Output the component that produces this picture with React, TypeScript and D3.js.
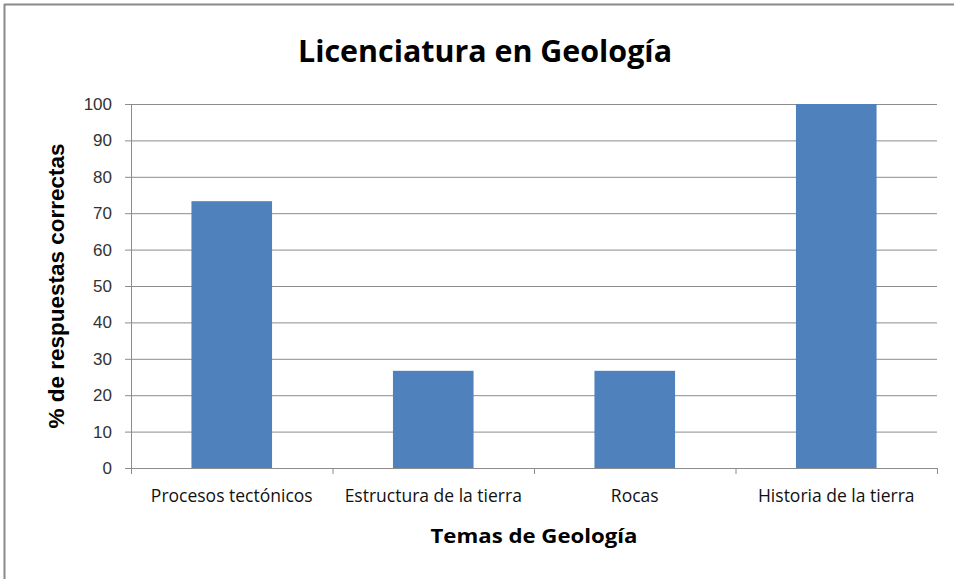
import React from "react";
import * as d3 from "d3";

const categories = ["Procesos tectónicos", "Estructura de la tierra", "Rocas", "Historia de la tierra"];
const values = [73.3, 26.7, 26.7, 100];
const yTicks = [0, 10, 20, 30, 40, 50, 60, 70, 80, 90, 100];

const W = 954;
const H = 579;
const M = { left: 131, right: 937, top: 104, bottom: 468 };

export default function App() {
  const x = d3.scaleBand<string>().domain(categories).range([M.left, M.right]).paddingInner(0.6).paddingOuter(0.3);
  const xb = d3.scaleBand<string>().domain(categories).range([M.left, M.right]);
  const y = d3.scaleLinear().domain([0, 100]).range([M.bottom, M.top]);
  const grid = "#8c8c8c";
  return (
    <svg width={W} height={H} style={{ position: "absolute", left: 0, top: 0, background: "#fff" }}>
      <rect x={0} y={0} width={W} height={H} fill="#fff" />
      <line x1={4.5} y1={4} x2={4.5} y2={H} stroke="#8a8a8a" strokeWidth={2} />
      <line x1={4} y1={4.5} x2={W} y2={4.5} stroke="#8a8a8a" strokeWidth={2} />
      <text x={485} y={62} textAnchor="middle" fontFamily="Open Sans, Liberation Sans, sans-serif" fontWeight="bold" fontSize={31} textLength={374} lengthAdjust="spacingAndGlyphs" fill="#000">Licenciatura en Geología</text>
      {yTicks.map((t) => (
        <g key={t}>
          {t > 0 && <line x1={M.left} x2={M.right} y1={y(t) + 0.5} y2={y(t) + 0.5} stroke={grid} strokeWidth={1} />}
          <line x1={M.left - 6} x2={M.left} y1={y(t) + 0.5} y2={y(t) + 0.5} stroke={grid} strokeWidth={1} />
          <text x={112} y={y(t) + 6} textAnchor="end" fontFamily="Liberation Sans, Arial, sans-serif" fontSize={17} fill="#333">{t}</text>
        </g>
      ))}
      {categories.map((c, i) => (
        <rect key={c} x={x(c)} y={y(values[i])} width={x.bandwidth()} height={M.bottom - y(values[i])} fill="#4F81BD" />
      ))}
      <line x1={M.left + 0.5} x2={M.left + 0.5} y1={M.top} y2={M.bottom} stroke={grid} strokeWidth={1} />
      <line x1={M.left} x2={M.right} y1={M.bottom + 0.5} y2={M.bottom + 0.5} stroke={grid} strokeWidth={1} />
      {categories.map((c) => (
        <line key={"t" + c} x1={(xb(c) as number) + xb.bandwidth() + 0.5} x2={(xb(c) as number) + xb.bandwidth() + 0.5} y1={M.bottom} y2={M.bottom + 6} stroke={grid} strokeWidth={1} />
      ))}
      <line x1={M.left + 0.5} x2={M.left + 0.5} y1={M.bottom} y2={M.bottom + 6} stroke={grid} strokeWidth={1} />
      {categories.map((c) => (
        <text key={"l" + c} x={(xb(c) as number) + xb.bandwidth() / 2} y={502} textAnchor="middle" fontFamily="Open Sans, Liberation Sans, sans-serif" fontSize={17.5} fill="#111">{c}</text>
      ))}
      <text x={534} y={543} textAnchor="middle" fontFamily="Open Sans, Liberation Sans, sans-serif" fontWeight="bold" fontSize={20} textLength={207} lengthAdjust="spacingAndGlyphs" fill="#000">Temas de Geología</text>
      <text transform={`translate(64, 286) rotate(-90)`} textAnchor="middle" fontFamily="Liberation Sans, Arial, sans-serif" fontWeight="bold" fontSize={22.5} fill="#000">% de respuestas correctas</text>
    </svg>
  );
}
